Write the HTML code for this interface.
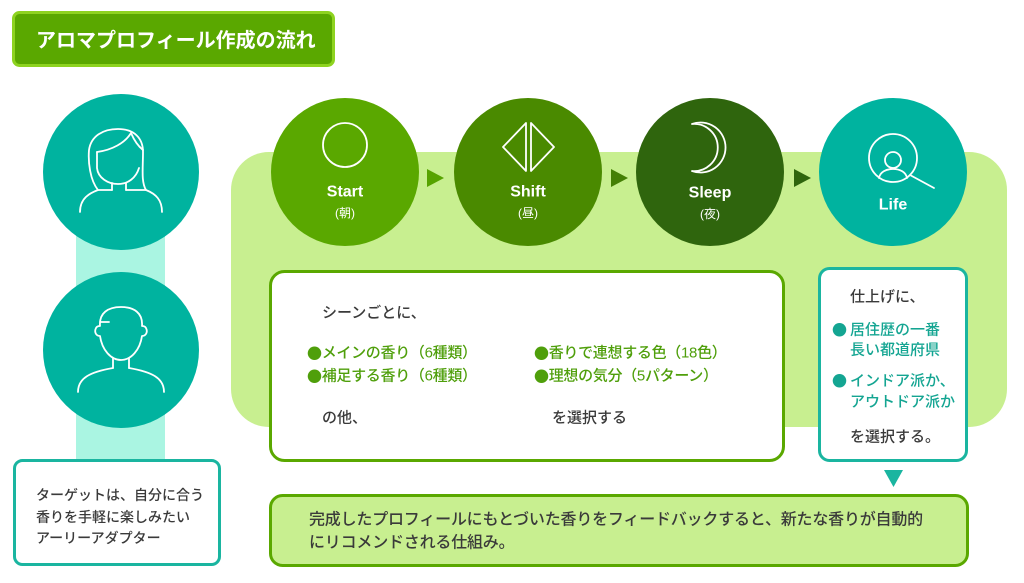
<!DOCTYPE html>
<html><head><meta charset="utf-8"><style>
html,body{margin:0;padding:0;background:#fff;}
svg{display:block;}
text{font-family:"Liberation Sans","Noto Sans CJK JP",sans-serif;}
.d{fill:#3a3a3a;font-size:15px;font-weight:500;}
.g{fill:#4f9f0b;font-size:15px;font-weight:500;}
.t{fill:#14a592;font-size:15px;font-weight:500;}
.b{font-family:"Noto Sans CJK JP",sans-serif;}
.w{fill:none;stroke:#fff;stroke-width:1.8;stroke-linecap:round;stroke-linejoin:round;}
</style></head><body>
<svg width="1024" height="583" viewBox="0 0 1024 583" xmlns="http://www.w3.org/2000/svg">
<rect x="0" y="0" width="1024" height="583" fill="#fff"/>
<!-- title -->
<rect x="13.5" y="12.5" width="320" height="53" rx="6" fill="#5aa800" stroke="#8ed320" stroke-width="3"/>
<text x="36" y="41" dominant-baseline="central" fill="#fff" font-size="20" font-weight="bold">アロマプロフィール作成の流れ</text>

<!-- left column -->
<rect x="76" y="235" width="89" height="225" fill="#aaf5e2"/>
<circle cx="121" cy="172" r="78" fill="#00b39f"/>
<circle cx="121" cy="350" r="78" fill="#00b39f"/>
<!-- woman icon -->
<path class="w" d="M98 190 C90 180 88 162 89 150 C91 136 103 129 118 129 C134 129 143 138 143 152 C143 168 141 182 146 190"/>
<path class="w" d="M97 152 L97 168 C98 178 108 184 118 184 C128 184 136 178 139 168"/>
<path class="w" d="M97 152 C112 150 125 143 131 133 C134 140 138 146 143 150"/>
<path class="w" d="M112 183 L112 190 M126 183 L126 190"/>
<path class="w" d="M80 212 C80 198 90 193 98 190 L112 190 M126 190 L146 190 C156 194 162 200 162 212"/>
<!-- man icon -->
<path class="w" d="M100 336 C96 336 94 332 96 328 C97 326 99 326 100 326 C99 313 108 307 121 307 C134 307 143 313 142 326 C143 326 145 326 146 328 C148 332 146 336 142 336 C140 350 131 360 121 360 C111 360 102 350 100 336 Z"/>
<path class="w" d="M100 322 L109 322"/>
<path class="w" d="M113 358 L113 368 M129 358 L129 368"/>
<path class="w" d="M78 392 C78 378 90 372 113 368 M129 368 C152 372 164 378 164 392"/>

<!-- target box -->
<rect x="14.5" y="460.5" width="205" height="104" rx="8" fill="#fff" stroke="#1ab5a0" stroke-width="3"/>
<text class="d" x="36" y="495" dominant-baseline="central" style="font-size:14px">ターゲットは、自分に合う</text>
<text class="d" x="36" y="517" dominant-baseline="central" style="font-size:14px">香りを手軽に楽しみたい</text>
<text class="d" x="36" y="538" dominant-baseline="central" style="font-size:14px">アーリーアダプター</text>

<!-- big panel -->
<rect x="231" y="152" width="776" height="275" rx="38" fill="#c8ef90"/>

<!-- circles -->
<circle cx="345" cy="172" r="74" fill="#5aa800"/>
<circle cx="528" cy="172" r="74" fill="#4a8a00"/>
<circle cx="710" cy="172" r="74" fill="#2f650d"/>
<circle cx="893" cy="172" r="74" fill="#00b39f"/>
<!-- arrows -->
<polygon points="427,169 427,187 444,178" fill="#56a300"/>
<polygon points="611,169 611,187 628,178" fill="#447f05"/>
<polygon points="794,169 794,187 811,178" fill="#2f650d"/>

<!-- icons -->
<circle class="w" cx="345" cy="145" r="22"/>
<polygon class="w" points="503,147 526,123 526,171"/>
<polygon class="w" points="531,123 531,171 554,147"/>
<path class="w" d="M692 124 A25 25 0 1 1 692 171 A23.6 23.6 0 1 0 692 124 Z"/>
<circle class="w" cx="893" cy="158" r="24"/>
<circle class="w" cx="893" cy="160" r="8"/>
<path class="w" d="M879 178 C880 172 886 169 893 169 C900 169 906 172 907 178"/>
<path class="w" d="M910 175 L934 188"/>

<!-- circle labels -->
<text x="345" y="192" text-anchor="middle" dominant-baseline="central" fill="#fff" font-size="16" font-weight="bold">Start</text>
<text x="345" y="213" text-anchor="middle" dominant-baseline="central" fill="#fff" font-size="12">(朝)</text>
<text x="528" y="192" text-anchor="middle" dominant-baseline="central" fill="#fff" font-size="16" font-weight="bold">Shift</text>
<text x="528" y="213" text-anchor="middle" dominant-baseline="central" fill="#fff" font-size="12">(昼)</text>
<text x="710" y="193" text-anchor="middle" dominant-baseline="central" fill="#fff" font-size="16" font-weight="bold">Sleep</text>
<text x="710" y="214" text-anchor="middle" dominant-baseline="central" fill="#fff" font-size="12">(夜)</text>
<text x="893" y="205" text-anchor="middle" dominant-baseline="central" fill="#fff" font-size="16" font-weight="bold">Life</text>

<!-- main box -->
<rect x="270.5" y="271.5" width="513" height="189" rx="14" fill="#fff" stroke="#5aa800" stroke-width="3"/>
<text class="d" x="322" y="313" dominant-baseline="central">シーンごとに、</text>
<text class="g" x="307" y="353" dominant-baseline="central" letter-spacing="-0.3"><tspan class="b">●</tspan>メインの香り（6種類）</text>
<text class="g" x="307" y="376" dominant-baseline="central" letter-spacing="-0.3"><tspan class="b">●</tspan>補足する香り（6種類）</text>
<text class="g" x="534" y="353" dominant-baseline="central" letter-spacing="-0.3"><tspan class="b">●</tspan>香りで連想する色（18色）</text>
<text class="g" x="534" y="376" dominant-baseline="central" letter-spacing="-0.3"><tspan class="b">●</tspan>理想の気分（5パターン）</text>
<text class="d" x="322" y="418" dominant-baseline="central">の他、</text>
<text class="d" x="552" y="418" dominant-baseline="central">を選択する</text>

<!-- life box -->
<rect x="819.5" y="268.5" width="147" height="192" rx="10" fill="#fff" stroke="#1ab5a0" stroke-width="3"/>
<text class="d" x="850" y="297" dominant-baseline="central">仕上げに、</text>
<text class="t b" x="832" y="330" dominant-baseline="central">●</text>
<text class="t" x="850" y="330" dominant-baseline="central">居住歴の一番</text>
<text class="t" x="850" y="350" dominant-baseline="central">長い都道府県</text>
<text class="t b" x="832" y="381" dominant-baseline="central">●</text>
<text class="t" x="850" y="381" dominant-baseline="central">インドア派か、</text>
<text class="t" x="850" y="402" dominant-baseline="central">アウトドア派か</text>
<text class="d" x="850" y="437" dominant-baseline="central">を選択する。</text>
<polygon points="884,470 903,470 893.5,487" fill="#1ab5a0"/>

<!-- bottom box -->
<rect x="270.5" y="495.5" width="697" height="70" rx="12" fill="#c8ef90" stroke="#5aa800" stroke-width="3"/>
<text class="d" x="309" y="520" dominant-baseline="central" style="font-size:16px" letter-spacing="-0.2">完成したプロフィールにもとづいた香りをフィードバックすると、新たな香りが自動的</text>
<text class="d" x="309" y="543" dominant-baseline="central" style="font-size:16px" letter-spacing="-0.2">にリコメンドされる仕組み。</text>
</svg>
</body></html>
